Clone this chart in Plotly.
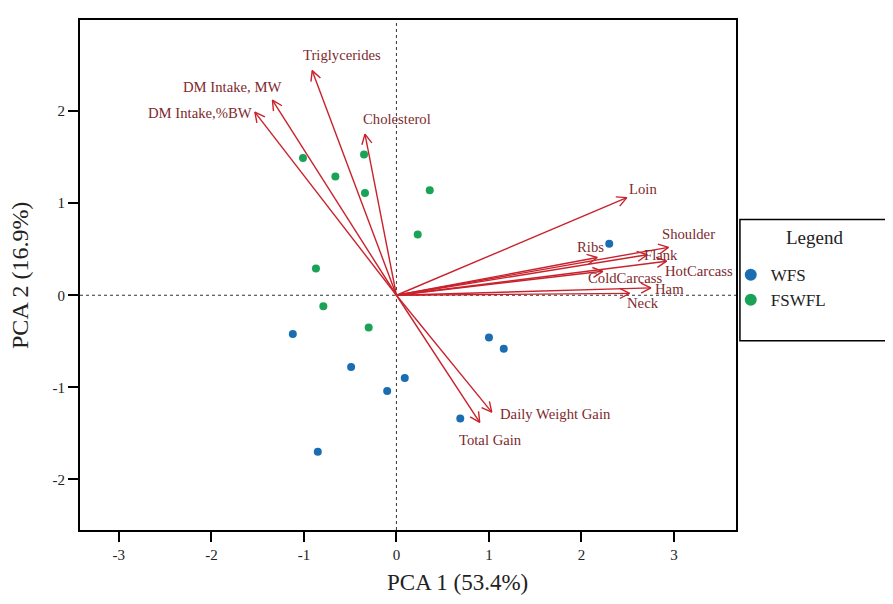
import numpy as np
import plotly.graph_objects as go

# --- data ---
wfs_x = [2.30, -1.12, 1.00, 1.16, -0.49, 0.09, -0.10, 0.69, -0.85]
wfs_y = [0.56, -0.42, -0.46, -0.58, -0.78, -0.90, -1.04, -1.34, -1.70]
fswfl_x = [-1.01, -0.66, -0.35, -0.34, 0.36, 0.23, -0.87, -0.79, -0.30]
fswfl_y = [1.49, 1.29, 1.53, 1.11, 1.14, 0.66, 0.29, -0.12, -0.35]

variables = ["Loin", "Shoulder", "Ribs", "Flank", "HotCarcass", "ColdCarcass", "Ham", "Neck",
             "Triglycerides", "DM Intake, MW", "DM Intake,%BW", "Cholesterol",
             "Daily Weight Gain", "Total Gain"]
load_x = [2.49, 2.94, 2.17, 2.71, 2.92, 2.23, 2.75, 2.52, -0.91, -1.34, -1.53, -0.34, 1.03, 0.90]
load_y = [1.06, 0.52, 0.41, 0.44, 0.37, 0.26, 0.08, 0.02, 2.44, 2.12, 1.99, 1.75, -1.27, -1.38]

x_ticks = [-3, -2, -1, 0, 1, 2, 3]
y_ticks = [-2, -1, 0, 1, 2]

# label offsets (pixels) relative to arrow tips
label_shift = {
    "Loin": (16, 9), "Shoulder": (20, 13), "Ribs": (-7, 11), "Flank": (14, 0),
    "HotCarcass": (32, -10), "ColdCarcass": (23, -7), "Ham": (19, -1), "Neck": (13, -10),
    "Triglycerides": (30, 16), "DM Intake, MW": (-40, 13), "DM Intake,%BW": (-55, -1),
    "Cholesterol": (32, 15), "Daily Weight Gain": (64, -2), "Total Gain": (11, -18),
}

FONT = "Liberation Serif, Times New Roman, serif"
ARROW = "#c8232c"
LABEL = "#7e2a2e"

fig = go.Figure()

# arrows (shaft + open V head)
ax_, ay_ = [], []
L, ang = 0.12, np.deg2rad(27)


def rot(v, a):
    return np.array([v[0] * np.cos(a) - v[1] * np.sin(a), v[0] * np.sin(a) + v[1] * np.cos(a)])


for tx, ty in zip(load_x, load_y):
    d = np.array([tx, ty]) / np.hypot(tx, ty)
    h1 = np.array([tx, ty]) - L * rot(d, ang)
    h2 = np.array([tx, ty]) - L * rot(d, -ang)
    ax_ += [0, tx, None, h1[0], tx, h2[0], None]
    ay_ += [0, ty, None, h1[1], ty, h2[1], None]
fig.add_trace(go.Scatter(x=ax_, y=ay_, mode="lines", line=dict(color=ARROW, width=1.4),
                         hoverinfo="skip", showlegend=False))

fig.add_trace(go.Scatter(x=wfs_x, y=wfs_y, mode="markers", name="WFS",
                         marker=dict(color="#1b6db2", size=8)))
fig.add_trace(go.Scatter(x=fswfl_x, y=fswfl_y, mode="markers", name="FSWFL",
                         marker=dict(color="#1aa356", size=8)))

for name, tx, ty in zip(variables, load_x, load_y):
    dx, dy = label_shift[name]
    fig.add_annotation(x=tx, y=ty, text=name, showarrow=False, xshift=dx, yshift=dy,
                       font=dict(family=FONT, size=14.7, color=LABEL))

# dashed zero lines
fig.add_shape(type="line", xref="x", yref="y domain", x0=0, x1=0, y0=0, y1=1,
              line=dict(color="#333", width=1, dash="3px,3px"), layer="below")
fig.add_shape(type="line", xref="x domain", yref="y", x0=0, x1=1, y0=0, y1=0,
              line=dict(color="#333", width=1, dash="3px,3px"), layer="below")

# legend box + title
fig.add_shape(type="rect", xref="paper", yref="paper", x0=1.006, x1=1.235, y0=0.371, y1=0.609,
              line=dict(color="black", width=1.5))
fig.add_annotation(xref="paper", yref="paper", x=1.12, y=0.574, text="Legend", showarrow=False,
                   xanchor="center", yanchor="middle",
                   font=dict(family=FONT, size=19, color="#222"))

# axis titles
fig.add_annotation(xref="paper", yref="paper", x=0.575, y=-0.102, text="PCA 1 (53.4%)",
                   xanchor="center", yanchor="middle",
                   showarrow=False, font=dict(family=FONT, size=23, color="#222"))
fig.add_annotation(xref="paper", yref="paper", x=-0.0915, y=0.5, text="PCA 2 (16.9%)",
                   xanchor="center", yanchor="middle",
                   textangle=-90, showarrow=False, font=dict(family=FONT, size=24, color="#222"))

axis_common = dict(showgrid=False, zeroline=False, showline=True, linecolor="black", linewidth=2,
                   mirror=True, ticks="outside", ticklen=10, tickwidth=1.8, tickcolor="black",
                   tickfont=dict(family=FONT, size=15, color="#222"))
fig.update_xaxes(range=[-3.42, 3.67], tickvals=x_ticks, ticktext=[str(v) for v in x_ticks], **axis_common)
fig.update_yaxes(range=[-2.55, 2.99], tickvals=y_ticks, ticktext=[str(v) for v in y_ticks], **axis_common)

fig.update_layout(
    width=877, height=588,
    margin=dict(l=72, r=149, t=10, b=66),
    plot_bgcolor="white", paper_bgcolor="white",
    showlegend=True,
    legend=dict(x=0.992, y=0.535, xanchor="left", yanchor="top", bgcolor="rgba(0,0,0,0)",
                font=dict(family=FONT, size=17, color="#222"), tracegroupgap=0, itemsizing="constant"),
)

fig.write_html("out.html")
